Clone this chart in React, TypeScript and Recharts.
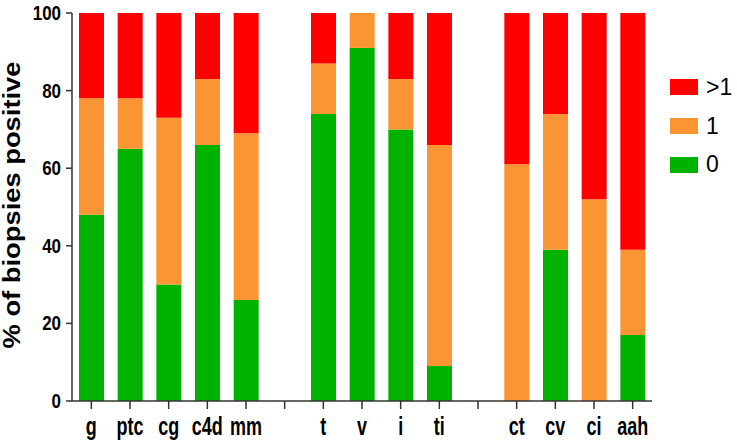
import { BarChart, Bar, XAxis, YAxis } from "recharts";

// category order, blank entries are the gaps between groups
const categories = ["g", "ptc", "cg", "c4d", "mm", " ", "t", "v", "i", "ti", "  ", "ct", "cv", "ci", "aah"];
const zero = [48, 65, 30, 66, 26, null, 74, 91, 70, 9, null, 0, 39, 0, 17];
const one = [30, 13, 43, 17, 43, null, 13, 9, 13, 57, null, 61, 35, 52, 22];
const more = [22, 22, 27, 17, 31, null, 13, 0, 17, 34, null, 39, 26, 48, 61];
const yTicks = [0, 20, 40, 60, 80, 100];

const RED = "#ff0000";
const ORANGE = "#fb9433";
const GREEN = "#00b200";
const FONT = "'Liberation Sans', Arial, sans-serif";

const legendItems = [
  { label: ">1", color: RED },
  { label: "1", color: ORANGE },
  { label: "0", color: GREEN },
];

const data = categories.map((name, i) => ({
  name,
  zero: zero[i],
  one: one[i],
  more: more[i],
}));

// the source uses a narrow bold face, so squeeze the glyphs horizontally
function XTick({ x, y, payload }: any) {
  return (
    <g transform={`translate(${x},${y})`}>
      <text
        x={0}
        y={0}
        dy={24.5}
        textAnchor="middle"
        transform="scale(0.72,1)"
        fontSize={25}
        fontWeight="bold"
        fontFamily={FONT}
        fill="#000"
      >
        {payload.value}
      </text>
    </g>
  );
}

function YTick({ x, y, payload }: any) {
  return (
    <g transform={`translate(${x},${y})`}>
      <text
        x={0}
        y={0}
        dy={7}
        textAnchor="end"
        transform="scale(0.87,1)"
        fontSize={19.5}
        fontWeight="bold"
        fontFamily={FONT}
        fill="#000"
      >
        {payload.value}
      </text>
    </g>
  );
}

function YLabel() {
  return (
    <text
      transform="translate(19.5,205) rotate(-90)"
      textAnchor="middle"
      fontSize={23.5}
      fontWeight="bold"
      fontFamily={FONT}
      fill="#000"
      textLength={287}
      lengthAdjust="spacingAndGlyphs"
    >
      % of biopsies positive
    </text>
  );
}

function LegendBox() {
  return (
    <div style={{ position: "absolute", left: 670, top: 68, fontFamily: FONT }}>
      {legendItems.map((it) => (
        <div
          key={it.label}
          style={{ display: "flex", alignItems: "center", height: 38.7 }}
        >
          <div style={{ width: 28, height: 16, background: it.color }} />
          <span style={{ fontSize: 23, marginLeft: 8, color: "#000" }}>{it.label}</span>
        </div>
      ))}
    </div>
  );
}

export default function App() {
  return (
    <div style={{ position: "absolute", left: 0, top: 0, width: 737, height: 445, background: "#fff" }}>
      <BarChart
        width={737}
        height={445}
        data={data}
        margin={{ top: 13, right: 85, bottom: 0, left: 0 }}
      >
        <XAxis
          dataKey="name"
          interval={0}
          tick={<XTick />}
          tickSize={8}
          height={44}
          axisLine={{ stroke: "#333", strokeWidth: 1.5 }}
          tickLine={{ stroke: "#333", strokeWidth: 1.5 }}
        />
        <YAxis
          domain={[0, 100]}
          ticks={yTicks}
          width={72}
          tickSize={6}
          tickMargin={5}
          axisLine={{ stroke: "#333", strokeWidth: 1.5 }}
          tickLine={{ stroke: "#333", strokeWidth: 1.5 }}
          tick={<YTick />}
          label={<YLabel />}
        />
        <Bar dataKey="zero" name="0" stackId="a" fill={GREEN} barSize={25} isAnimationActive={false} />
        <Bar dataKey="one" name="1" stackId="a" fill={ORANGE} barSize={25} isAnimationActive={false} />
        <Bar dataKey="more" name=">1" stackId="a" fill={RED} barSize={25} isAnimationActive={false} />
      </BarChart>
      <LegendBox />
    </div>
  );
}
